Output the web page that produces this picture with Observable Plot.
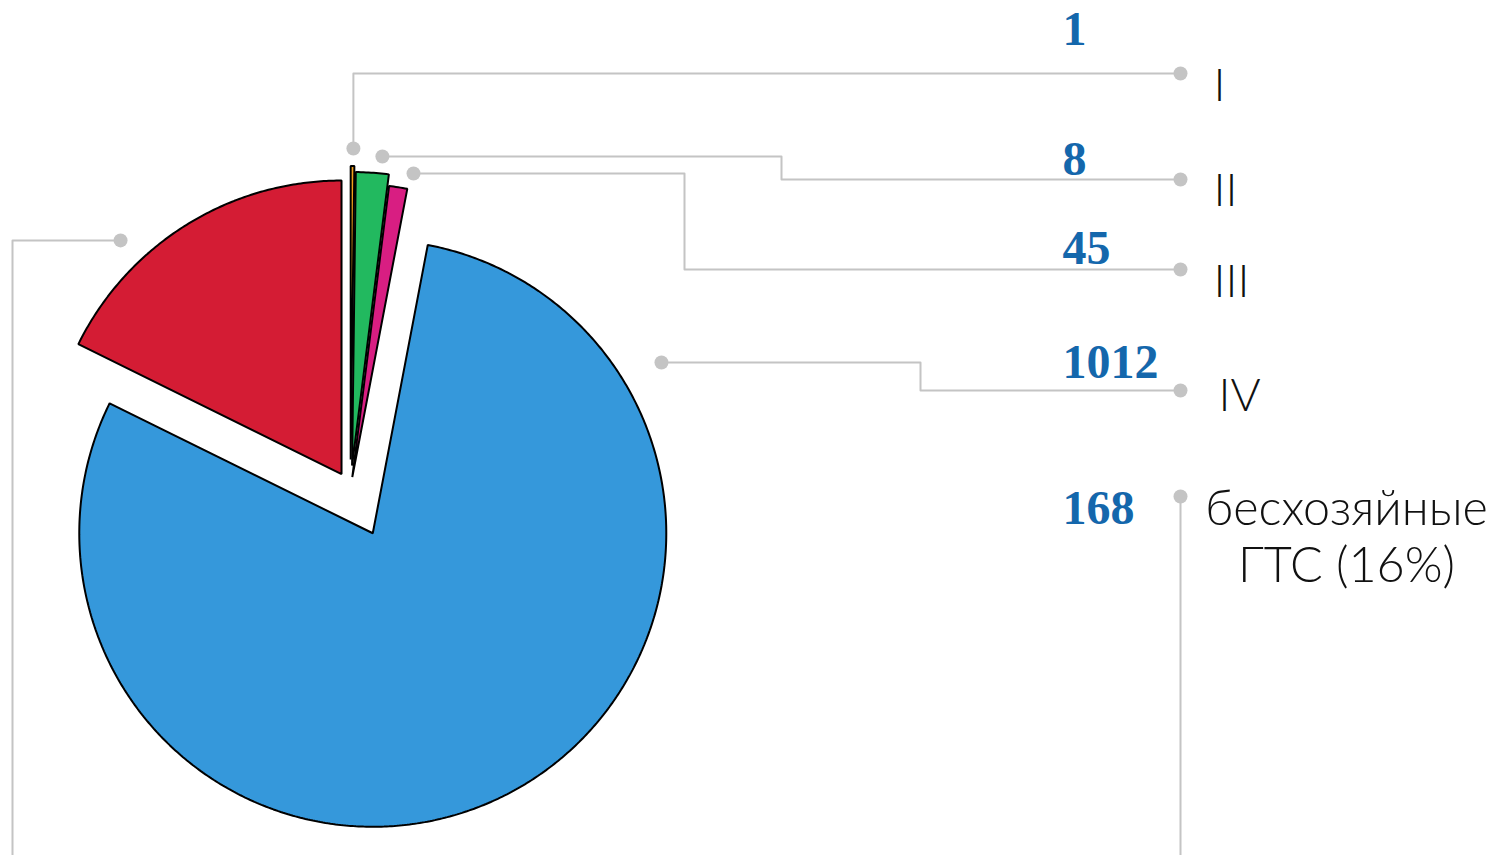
<!DOCTYPE html>
<html>
<head>
<meta charset="utf-8">
<script src="https://cdn.jsdelivr.net/npm/d3@7"></script>
<script src="https://cdn.jsdelivr.net/npm/@observablehq/plot@0.6"></script>
<style>
  html, body { margin: 0; padding: 0; background: #fff; }
  #chart { width: 1493px; height: 855px; overflow: hidden; }
</style>
</head>
<body>
<div id="chart"></div>
<script>
// ---- data ----
const categories = ["I", "II", "III", "IV", "бесхозяйные ГТС"];
const counts = [1, 8, 45, 1012, 168];
const labelTexts = ["I", "II", "III", "IV", "бесхозяйные\nГТС (16%)"];
// slice shares (percent of the circle) as drawn in the picture
const sharesPct = [0.2, 1.8, 1.0, 79.3, 17.7];
const colors = ["#f0a01a", "#22b95f", "#d81e82", "#3598db", "#d41c34"];

// ---- layout ----
const W = 1493, H = 855;
const center = {x: 350, y: 488};
const R = 293.5;
const explode = [29, 23, 11.5, 50, 17];
const leaderAngle = [0.5, 5.6, 11.4, 59.4, 316.6];
const leaderRadius = [311, 310.5, 309.7, 335.4, 321.6];
const elbowX = [null, 781, 684, 920, 12];
const rowY = [73, 179, 269, 390, 496];
const endX = 1180;
const numberY = [44, 174, 263, 377, 523];
const numberX = 1062;
const labelX = [1213, 1213, 1213, 1218, 1346];
const labelY = [100, 205, 296, 410, 525];

const rad = d => d * Math.PI / 180;

// slices
let acc = 0;
const slices = categories.map((c, i) => {
  const a0 = acc * 3.6;
  acc += sharesPct[i];
  const a1 = acc * 3.6;
  const mid = (a0 + a1) / 2;
  const vx = center.x + explode[i] * Math.sin(rad(mid));
  const vy = center.y - explode[i] * Math.cos(rad(mid));
  return {cat: c, i, a0, a1, vx, vy};
});

const polyPts = [];
slices.forEach(s => {
  polyPts.push({cat: s.cat, x: s.vx, y: s.vy});
  const n = Math.max(2, Math.ceil((s.a1 - s.a0) / 0.5));
  for (let k = 0; k <= n; k++) {
    const a = s.a0 + (s.a1 - s.a0) * k / n;
    polyPts.push({cat: s.cat, x: s.vx + R * Math.sin(rad(a)), y: s.vy - R * Math.cos(rad(a))});
  }
});

// leader lines
const leaderPts = [];
const dots = [];
slices.forEach((s, i) => {
  const dx = s.vx + leaderRadius[i] * Math.sin(rad(leaderAngle[i]));
  const dy = s.vy - leaderRadius[i] * Math.cos(rad(leaderAngle[i]));
  dots.push({x: dx, y: dy});
  if (i < 4) {
    const ex = elbowX[i] == null ? dx : elbowX[i];
    [[dx, dy], [ex, dy], [ex, rowY[i]], [endX, rowY[i]]].forEach(p => leaderPts.push({g: i, x: p[0], y: p[1]}));
    dots.push({x: endX, y: rowY[i]});
  } else {
    [[dx, dy], [elbowX[i], dy], [elbowX[i], H + 20]].forEach(p => leaderPts.push({g: "a" + i, x: p[0], y: p[1]}));
    [[endX, rowY[i]], [endX, H + 20]].forEach(p => leaderPts.push({g: "b" + i, x: p[0], y: p[1]}));
    dots.push({x: endX, y: rowY[i]});
  }
});

const numbers = counts.map((v, i) => ({t: String(v), x: numberX, y: numberY[i]}));
const labels = labelTexts.map((t, i) => ({t, x: labelX[i], y: labelY[i], anchor: i === 4 ? "middle" : "start"}));

const plot = Plot.plot({
  width: W, height: H,
  margin: 0,
  x: {domain: [0, W], range: [0, W], axis: null},
  y: {domain: [0, H], range: [0, H], axis: null},
  color: {domain: categories, range: colors},
  style: {background: "#fff", overflow: "hidden"},
  marks: [
    Plot.line(polyPts, {x: "x", y: "y", z: "cat", fill: "cat", stroke: "#000", strokeWidth: 2, curve: "linear-closed", strokeLinejoin: "miter"}),
    Plot.line(leaderPts, {x: "x", y: "y", z: "g", stroke: "#c4c4c4", strokeWidth: 2}),
    Plot.dot(dots, {x: "x", y: "y", r: 7, fill: "#c4c4c4"}),
    Plot.text(numbers, {x: "x", y: "y", text: "t", textAnchor: "start", lineAnchor: "bottom", fontFamily: "Liberation Serif", fontWeight: "bold", fontSize: 48, fill: "#1467ac"}),
    Plot.text(labels.filter(d => d.anchor === "start"), {x: "x", y: "y", text: "t", textAnchor: "start", lineAnchor: "bottom", fontFamily: "Lato", fontWeight: 300, fontSize: 46, fill: "#111"}),
    Plot.text(labels.filter(d => d.anchor === "middle"), {x: "x", y: "y", text: "t", textAnchor: "middle", lineAnchor: "top", lineHeight: 1.18, fontFamily: "Lato", fontWeight: 300, fontSize: 48.5, fill: "#111", dy: -41})
  ]
});
document.getElementById("chart").appendChild(plot);
</script>
</body>
</html>
